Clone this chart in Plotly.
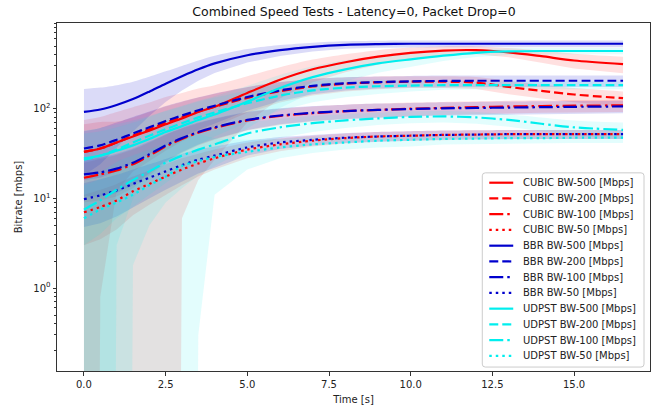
import math
import plotly.graph_objects as go

# Sample times [s]
time_s = [0, 0.5, 1, 1.5, 2, 2.5, 3, 3.5, 4, 5, 6, 7, 8, 9, 10, 11, 12, 13, 14, 15, 16.5]

# Mean bitrate and standard deviation per run type [Mbps]
cubic_500_mean = [33, 36, 42, 49, 57, 67, 78, 92, 105, 150, 210, 275, 330, 380, 420, 445, 450, 425, 385, 345, 314]
cubic_500_std = [42, 45, 50, 55, 60, 68, 72, 76, 78, 80, 80, 78, 75, 70, 60, 50, 45, 50, 60, 65, 65]
cubic_200_mean = [33, 36, 42, 50, 59, 70, 81, 93, 105, 132, 157, 177, 190, 197, 200, 200, 196, 175, 158, 144, 131]
cubic_200_std = [34, 35.2, 30, 30, 33, 36, 38, 40, 42, 42, 40, 37, 34, 32, 30, 30, 30, 30, 28, 26, 25]
cubic_100_mean = [17, 18.5, 20.5, 24, 30, 38, 46, 54, 61, 74, 83, 89, 94, 97, 100, 102, 104, 106, 107, 108, 109]
cubic_100_std = [8, 9, 10, 11, 12, 13, 14, 15, 16, 17, 17, 17, 17, 17, 17, 17, 17, 17, 17, 17, 17]
cubic_50_mean = [7, 8, 9.5, 12, 14.5, 17.5, 21, 24.5, 28, 35, 40, 44, 47, 49, 50, 51, 51.5, 52, 52, 52, 52]
cubic_50_std = [4, 4.5, 5, 5.5, 6, 6.5, 7, 7, 7, 7, 6.5, 6, 6, 6, 6, 6, 6, 6, 6, 6, 6]

bbr_500_mean = [92, 98, 110, 128, 155, 190, 230, 275, 320, 395, 450, 490, 515, 525, 530, 530, 530, 530, 530, 530, 530]
bbr_500_std = [74, 74, 73, 72, 72, 71, 70, 70, 70, 68, 62, 55, 50, 48, 46, 45, 45, 45, 45, 45, 45]
bbr_200_mean = [36, 39, 45, 53, 62, 73, 84, 96, 108, 135, 160, 180, 192, 198, 202, 204, 205, 205, 205, 205, 205]
bbr_200_std = [20, 22, 25, 28, 31, 34, 36, 38, 40, 40, 38, 35, 32, 30, 30, 30, 30, 30, 30, 30, 30]
bbr_100_mean = [18.5, 19.5, 21.5, 25, 31, 39, 47, 55, 62, 75, 84, 90, 94, 97, 99, 101, 102, 103, 104, 105, 106]
bbr_100_std = [8, 9, 10, 11, 12, 13, 14, 15, 16, 17, 17, 17, 17, 17, 17, 17, 17, 17, 17, 17, 17]
bbr_50_mean = [9.8, 10.8, 12.3, 14.5, 17, 20, 23.5, 27, 30, 37, 42, 45, 47.5, 49, 50, 51, 51.5, 52, 52, 52, 52]
bbr_50_std = [5, 5.5, 6, 6.5, 7, 7.5, 8, 8, 8, 7, 6.5, 6, 6, 6, 6, 6, 6, 6, 6, 6, 6]

udpst_500_mean = [28, 30, 34, 39, 46, 55, 64, 75, 86, 120, 170, 225, 275, 320, 355, 390, 420, 435, 440, 440, 440]
udpst_500_std = [25, 26, 28, 31, 35, 40, 44, 48, 52, 60, 68, 72, 72, 68, 60, 50, 42, 38, 35, 35, 35]
udpst_200_mean = [27, 30, 35, 42, 50, 59, 69, 80, 91, 115, 140, 160, 172, 178, 181, 183, 183, 183, 183, 183, 183]
udpst_200_std = [30, 31, 32, 32, 33, 35, 37, 40, 42, 45, 45, 42, 38, 32, 25, 20, 18, 18, 18, 18, 18]
udpst_100_mean = [7.5, 9.5, 12.5, 16, 20, 25, 30, 35, 40, 53, 62, 69, 74, 78, 81, 82, 80, 75, 68, 62, 58]
udpst_100_std = [8, 10, 13, 14.2, 15, 16, 17, 17, 17, 17, 15, 14, 13, 12, 12, 12, 12, 12, 12, 12, 12]
udpst_50_mean = [6, 7.5, 9, 11, 14, 17.5, 23, 26, 29, 33, 37, 40, 42, 44, 45, 46, 46.5, 47, 47, 47.5, 47.5]
udpst_50_std = [8, 9, 11, 13, 16, 19, 24, 25.7, 18, 12, 9, 8, 7, 7, 7, 6, 6, 6, 6, 6, 6]

labels = [
    "CUBIC BW-500 [Mbps]", "CUBIC BW-200 [Mbps]", "CUBIC BW-100 [Mbps]", "CUBIC BW-50 [Mbps]",
    "BBR BW-500 [Mbps]", "BBR BW-200 [Mbps]", "BBR BW-100 [Mbps]", "BBR BW-50 [Mbps]",
    "UDPST BW-500 [Mbps]", "UDPST BW-200 [Mbps]", "UDPST BW-100 [Mbps]", "UDPST BW-50 [Mbps]",
]
means = [cubic_500_mean, cubic_200_mean, cubic_100_mean, cubic_50_mean,
         bbr_500_mean, bbr_200_mean, bbr_100_mean, bbr_50_mean,
         udpst_500_mean, udpst_200_mean, udpst_100_mean, udpst_50_mean]
stds = [cubic_500_std, cubic_200_std, cubic_100_std, cubic_50_std,
        bbr_500_std, bbr_200_std, bbr_100_std, bbr_50_std,
        udpst_500_std, udpst_200_std, udpst_100_std, udpst_50_std]

RGB = {"red": (255, 0, 0), "blue": (0, 0, 205), "cyan": (0, 238, 238)}
colors = ["red"] * 4 + ["blue"] * 4 + ["cyan"] * 4
DASH = {
    "solid": "solid",
    "dashed": "9px,4px",
    "dashdot": "14px,4px,2.5px,4px",
    "dotted": "2.5px,4px",
}
styles = ["solid", "dashed", "dashdot", "dotted"] * 3

BAND_ALPHA = {"red": 0.12, "blue": 0.14, "cyan": 0.11}
LINE_W = 2.2
FLOOR = 1e-30  # non-positive band edges are pushed far below the log axis

fig = go.Figure()

# Shaded mean +/- std bands first so every line sits on top
for m, s, c in zip(means, stds, colors):
    r, g, b = RGB[c]
    lower = [max(mi - si, FLOOR) for mi, si in zip(m, s)]
    upper = [mi + si for mi, si in zip(m, s)]
    fig.add_trace(go.Scatter(x=time_s, y=lower, mode="lines", line=dict(width=0),
                             showlegend=False, hoverinfo="skip"))
    fig.add_trace(go.Scatter(x=time_s, y=upper, mode="lines",
                             line=dict(width=0, shape="spline", smoothing=0.8),
                             fill="tonexty", fillcolor=f"rgba({r},{g},{b},{BAND_ALPHA[c]})",
                             showlegend=False, hoverinfo="skip"))

for m, c, st, lab in zip(means, colors, styles, labels):
    r, g, b = RGB[c]
    fig.add_trace(go.Scatter(x=time_s, y=m, mode="lines", name=lab,
                             line=dict(color=f"rgb({r},{g},{b})", width=LINE_W, dash=DASH[st],
                                       shape="spline", smoothing=0.8),
                             showlegend=False))

# Plot-area geometry in pixels (used for the legend box placement)
W, H = 660, 413
L, R, T, B = 57, 9, 23, 37
pw, ph = W - L - R, H - T - B


def px_x(px):
    return (px - L) / pw


def px_y(py):
    return (H - B - py) / ph


# Legend frame with slightly rounded corners
bx0, bx1, by0, by1 = px_x(483), px_x(645), px_y(372), px_y(175)
rx, ry = 3 / pw, 3 / ph
frame = (f"M {bx0+rx},{by0} L {bx1-rx},{by0} Q {bx1},{by0} {bx1},{by0+ry} "
         f"L {bx1},{by1-ry} Q {bx1},{by1} {bx1-rx},{by1} L {bx0+rx},{by1} "
         f"Q {bx0},{by1} {bx0},{by1-ry} L {bx0},{by0+ry} Q {bx0},{by0} {bx0+rx},{by0} Z")
shapes = [dict(type="path", xref="paper", yref="paper", path=frame,
               fillcolor="rgba(255,255,255,0.9)", line=dict(color="#cccccc", width=1), layer="above")]
annotations = []
for i, (c, st, lab) in enumerate(zip(colors, styles, labels)):
    r, g, b = RGB[c]
    py = 185 + 15.97 * i
    shapes.append(dict(type="line", xref="paper", yref="paper",
                       x0=px_x(490), x1=px_x(514), y0=px_y(py), y1=px_y(py),
                       line=dict(color=f"rgb({r},{g},{b})", width=LINE_W, dash=DASH[st]),
                       layer="above"))
    annotations.append(dict(xref="paper", yref="paper", x=px_x(522), y=px_y(py),
                            xanchor="left", yanchor="middle", text=lab, showarrow=False,
                            font=dict(size=10, color="#222222", family="DejaVu Sans")))

axis_col = "#333333"
fig.update_layout(
    width=W, height=H,
    margin=dict(l=L, r=R, t=T, b=B, pad=0),
    paper_bgcolor="white", plot_bgcolor="white",
    font=dict(family="DejaVu Sans", size=10, color="#222222"),
    title=dict(text="Combined Speed Tests - Latency=0, Packet Drop=0",
               x=(L + pw / 2) / W, xanchor="center", y=1 - 11.5 / H, yanchor="middle",
               font=dict(size=12.5, color="#111111")),
    shapes=shapes,
    annotations=annotations,
    showlegend=False,
)
fig.update_xaxes(
    range=[-0.825, 17.325],
    tickvals=[0, 2.5, 5, 7.5, 10, 12.5, 15],
    ticktext=["0.0", "2.5", "5.0", "7.5", "10.0", "12.5", "15.0"],
    ticks="outside", ticklen=3.5, tickwidth=1, tickcolor=axis_col,
    showline=True, linecolor=axis_col, linewidth=1, mirror=True,
    showgrid=False, zeroline=False,
    title=dict(text="Time [s]", standoff=7, font=dict(size=10)),
    tickfont=dict(size=10),
)
minor_vals = [k * 10 ** e for e in (-1, 0, 1, 2) for k in range(2, 10) if 0.119 < k * 10 ** e < 903]
fig.update_yaxes(
    type="log",
    range=[math.log10(0.119), math.log10(903)],
    tickvals=[1, 10, 100],
    ticktext=["10<sup>0</sup>", "10<sup>1</sup>", "10<sup>2</sup>"],
    ticks="outside", ticklen=3.5, tickwidth=1, tickcolor=axis_col,
    minor=dict(tickvals=minor_vals, ticks="outside", ticklen=2, tickwidth=0.8, tickcolor=axis_col),
    showline=True, linecolor=axis_col, linewidth=1, mirror=True,
    showgrid=False, zeroline=False,
    title=dict(text="Bitrate [mbps]", standoff=8, font=dict(size=10)),
    tickfont=dict(size=10),
)

fig.write_html("out.html")
